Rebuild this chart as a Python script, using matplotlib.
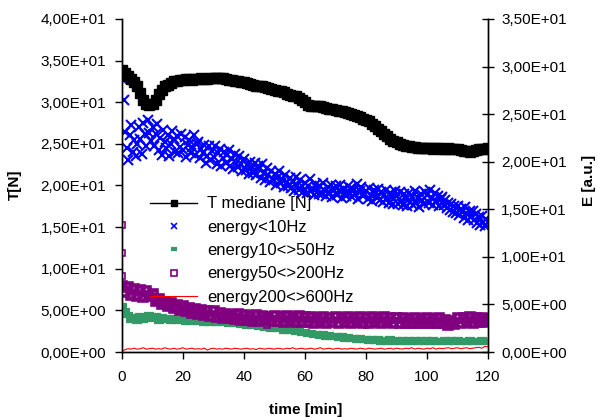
import numpy as np
import matplotlib
matplotlib.use('Agg')
import matplotlib.pyplot as plt
import matplotlib.ticker as ticker

plt.rcParams['font.family'] = ['Liberation Sans', 'DejaVu Sans']

# T mediane [N], one value per minute (left axis)
t_min = np.arange(0, 121, 1)
T_median = [33.9, 33.5, 33.1, 32.8, 32.4, 31.9, 31.1, 30.3, 29.8, 29.7,
            29.8, 30.3, 31.0, 31.5, 31.9, 32.1, 32.3, 32.5, 32.6, 32.7,
            32.7, 32.8, 32.8, 32.7, 32.8, 32.8, 32.9, 32.8, 32.8, 32.9,
            32.9, 32.9, 32.9, 32.9, 32.8, 32.7, 32.7, 32.6, 32.5, 32.4,
            32.4, 32.3, 32.2, 32.1, 32.0, 32.0, 31.9, 31.8, 31.7, 31.6,
            31.5, 31.4, 31.3, 31.2, 31.0, 30.9, 30.8, 30.7, 30.5, 30.3,
            30.0, 29.7, 29.6, 29.6, 29.6, 29.5, 29.4, 29.3, 29.2, 29.2,
            29.1, 29.0, 28.9, 28.8, 28.7, 28.6, 28.5, 28.4, 28.2, 28.0,
            27.9, 27.7, 27.4, 27.1, 26.8, 26.5, 26.2, 25.9, 25.6, 25.4,
            25.2, 25.0, 24.9, 24.8, 24.7, 24.6, 24.6, 24.5, 24.5, 24.5,
            24.5, 24.5, 24.4, 24.5, 24.5, 24.4, 24.4, 24.5, 24.4, 24.4,
            24.4, 24.3, 24.2, 24.1, 24.0, 24.1, 24.3, 24.4, 24.4, 24.4,
            24.5]

# energy<10Hz, every half minute (right axis)
t_half = np.arange(0, 120.25, 0.5)
E_10 = [28.7, 26.5, 23.1, 21.4, 20.2, 22.8, 23.9, 21.0, 22.3, 20.6,
        21.9, 23.6, 22.4, 20.8, 24.1, 22.9, 21.7, 24.4, 23.0, 22.2,
        23.7, 21.6, 22.9, 24.0, 21.2, 22.5, 20.7, 23.3, 22.1, 21.4,
        22.8, 20.6, 21.9, 23.2, 22.4, 21.0, 22.7, 20.9, 21.5, 22.9,
        21.2, 22.6, 20.5, 21.8, 22.3, 20.9, 21.5, 22.8, 20.7, 21.9,
        22.1, 20.4, 21.3, 20.9, 21.8, 19.9, 20.6, 21.7, 20.2, 21.1,
        20.5, 21.6, 19.8, 20.9, 21.3, 19.6, 20.4, 21.0, 19.9, 20.7,
        21.2, 19.6, 20.3, 19.2, 20.8, 19.9, 19.4, 20.6, 19.8, 19.0,
        20.3, 19.1, 19.7, 18.7, 20.0, 19.4, 18.8, 19.9, 18.6, 19.5,
        19.2, 18.3, 19.8, 18.8, 18.1, 19.3, 18.6, 17.9, 19.0, 18.2,
        18.7, 17.6, 18.4, 19.0, 17.8, 18.2, 17.3, 18.6, 17.9, 17.5,
        18.3, 17.2, 17.9, 16.9, 18.4, 17.6, 17.0, 18.1, 17.4, 16.8,
        17.8, 16.7, 17.4, 18.2, 16.9, 17.1, 16.5, 17.7, 17.2, 16.6,
        17.5, 16.6, 17.8, 16.9, 16.4, 17.3, 16.8, 17.6, 16.3, 17.0,
        17.4, 16.5, 16.9, 17.6, 16.2, 17.1, 16.7, 16.4, 17.5, 16.8,
        17.2, 16.3, 17.0, 16.6, 17.7, 16.1, 16.9, 17.3, 16.4, 16.7,
        16.9, 16.1, 17.2, 16.5, 15.9, 17.0, 16.6, 16.2, 17.1, 16.0,
        16.8, 15.8, 16.5, 17.0, 16.1, 15.7, 16.7, 16.3, 15.6, 16.9,
        16.4, 15.6, 16.8, 15.9, 15.4, 16.6, 16.1, 15.3, 16.7, 15.8,
        16.3, 15.5, 16.9, 15.7, 16.2, 15.2, 16.6, 16.0, 15.6, 16.8,
        16.5, 15.7, 17.0, 16.2, 15.5, 16.7, 15.9, 16.4, 15.3, 16.1,
        16.3, 15.4, 16.0, 15.1, 15.7, 14.9, 15.6, 14.7, 15.3, 14.6,
        15.3, 14.4, 15.0, 14.7, 14.1, 15.2, 14.5, 13.9, 14.8, 14.3,
        14.8, 13.9, 14.5, 13.6, 14.2, 13.4, 14.3, 13.7, 13.2, 14.0,
        13.7]

# energy10<>50Hz, one value per minute
E_10_50 = [4.8, 4.3, 3.9, 3.4, 3.7, 3.3, 3.8, 3.4, 3.6, 3.9,
           3.5, 3.8, 3.3, 3.7, 3.4, 3.6, 3.3, 3.6, 3.3, 3.5,
           3.5, 3.2, 3.5, 3.2, 3.4, 3.2, 3.4, 3.1, 3.4, 3.1,
           3.3, 3.0, 3.3, 3.0, 3.2, 2.9, 3.1, 2.9, 3.0, 2.8,
           3.0, 2.7, 2.9, 2.7, 2.8, 2.6, 2.8, 2.5, 2.7, 2.4,
           2.6, 2.4, 2.5, 2.2, 2.4, 2.2, 2.3, 2.1, 2.2, 2.0,
           2.1, 1.9, 2.0, 1.8, 1.9, 1.7, 1.9, 1.6, 1.8, 1.6,
           1.7, 1.5, 1.7, 1.4, 1.6, 1.4, 1.5, 1.3, 1.5, 1.3,
           1.4, 1.2, 1.4, 1.2, 1.4, 1.1, 1.3, 1.1, 1.4, 1.1,
           1.3, 1.1, 1.3, 1.0, 1.3, 1.1, 1.3, 1.0, 1.3, 1.1,
           1.3, 1.1, 1.3, 1.0, 1.2, 1.1, 1.3, 1.0, 1.3, 1.1,
           1.3, 1.0, 1.2, 1.1, 1.3, 1.0, 1.2, 1.1, 1.3, 1.1,
           1.2]

# energy50<>200Hz, one value per minute + a few outliers
E_50_200 = [6.9, 6.3, 6.8, 6.0, 6.6, 5.9, 6.5, 5.8, 6.4, 5.9,
            6.1, 5.4, 5.6, 5.0, 5.3, 4.8, 5.1, 4.6, 4.9, 4.4,
            4.8, 4.3, 4.6, 4.1, 4.5, 4.0, 4.4, 3.9, 4.3, 3.8,
            4.3, 3.7, 4.1, 3.6, 4.0, 3.6, 3.9, 3.5, 4.0, 3.4,
            3.9, 3.4, 3.8, 3.3, 3.9, 3.3, 3.8, 3.4, 3.7, 3.3,
            3.8, 3.3, 3.7, 3.2, 3.8, 3.3, 3.7, 3.2, 3.8, 3.2,
            3.7, 3.2, 3.7, 3.1, 3.6, 3.2, 3.7, 3.1, 3.6, 3.2,
            3.7, 3.1, 3.6, 3.2, 3.7, 3.1, 3.6, 3.2, 3.7, 3.1,
            3.6, 3.1, 3.7, 3.2, 3.6, 3.1, 3.7, 3.2, 3.6, 3.1,
            3.6, 3.1, 3.6, 3.0, 3.5, 3.1, 3.6, 3.0, 3.5, 3.1,
            3.6, 3.1, 3.5, 3.0, 3.6, 3.1, 3.4, 2.8, 3.3, 2.9,
            3.6, 3.1, 3.6, 3.2, 3.7, 3.1, 3.6, 3.2, 3.6, 3.2,
            3.5]
out_t = [0, 0, 0, 47.5, 47.5]
out_E = [13.3, 10.4, 8.0, 3.9, 2.8]

# energy200<>600Hz, one value per minute
E_200_600 = [0.05, 0.25, 0.35, 0.3, 0.4, 0.3, 0.35, 0.45, 0.3, 0.35,
             0.4, 0.3, 0.35, 0.3, 0.45, 0.35, 0.3, 0.4, 0.3, 0.35,
             0.45, 0.3, 0.35, 0.4, 0.3, 0.35, 0.3, 0.4, 0.2, 0.35,
             0.4, 0.3, 0.35, 0.3, 0.4, 0.35, 0.3, 0.4, 0.35, 0.3,
             0.35, 0.4, 0.3, 0.35, 0.25, 0.4, 0.35, 0.3, 0.4, 0.35,
             0.3, 0.4, 0.35, 0.3, 0.4, 0.35, 0.45, 0.3, 0.35, 0.4,
             0.3, 0.35, 0.4, 0.3, 0.35, 0.45, 0.3, 0.35, 0.4, 0.3,
             0.35, 0.4, 0.3, 0.35, 0.3, 0.4, 0.35, 0.3, 0.4, 0.35,
             0.3, 0.4, 0.35, 0.3, 0.35, 0.4, 0.3, 0.35, 0.4, 0.3,
             0.4, 0.35, 0.3, 0.4, 0.35, 0.45, 0.3, 0.4, 0.35, 0.3,
             0.4, 0.35, 0.45, 0.3, 0.4, 0.35, 0.4, 0.45, 0.35, 0.4,
             0.45, 0.35, 0.4, 0.45, 0.35, 0.4, 0.45, 0.5, 0.4, 0.6,
             0.55]

fig = plt.figure(figsize=(5.98, 4.18), dpi=100)
ax1 = fig.add_axes([122/598, 1-352/418, 366/598, 333/418])
ax2 = ax1.twinx()

# energie sur l'axe de droite
ax2.plot(t_half, E_10, 'x', color='#0000FF', markersize=6.5, mew=1.5,
         label='energy<10Hz')
ax2.plot(t_min, E_10_50, '_', color='#339966', markersize=7, mew=4.5,
         label='energy10<>50Hz')
ax2.plot(t_min, E_50_200, 's', color='#800080', markersize=6, mew=2.6,
         mfc='none', label='energy50<>200Hz')
ax2.plot(out_t, out_E, 's', color='#800080', markersize=4, mew=1.2,
         mfc='none')
ax2.plot(t_min, E_200_600, '-', color='#FF0000', lw=0.8,
         label='energy200<>600Hz')
# T sur l'axe de gauche (converti vers l'echelle de droite pour l'ordre des couches)
ax2.plot(np.array(t_min), np.array(T_median) * 35 / 40, '-s',
         color='black', markersize=6.5, lw=1, label='T mediane [N]')

ax1.set_xlim(0, 120)
ax1.set_ylim(0, 40)
ax2.set_ylim(0, 35)
ax1.set_xticks(range(0, 121, 20))
ax1.set_yticks(np.arange(0, 40.1, 5))
ax2.set_yticks(np.arange(0, 35.1, 5))

fmt = ticker.FuncFormatter(lambda v, p: '{:.2E}'.format(v).replace('.', ','))
ax1.yaxis.set_major_formatter(fmt)
ax2.yaxis.set_major_formatter(fmt)

for a in (ax1, ax2):
    a.spines['top'].set_visible(False)
    for s in a.spines.values():
        s.set_linewidth(1)
ax1.tick_params(axis='y', direction='out', length=5, width=1, pad=6.5,
                labelsize=11)
ax1.tick_params(axis='x', direction='out', length=5, width=1, pad=8,
                labelsize=11)
ax2.tick_params(axis='y', direction='inout', length=9, width=1, pad=5,
                labelsize=11)

fig.text(15/598, 1-185/418, 'T[N]', rotation=90, ha='center', va='center',
         fontweight='bold', fontsize=11)
fig.text(589/598, 1-180/418, 'E [a.u.]', rotation=90, ha='center',
         va='center', fontweight='bold', fontsize=11)
fig.text(306/598, 1-410/418, 'time [min]', ha='center', va='center',
         fontweight='bold', fontsize=11)

handles, labels = ax2.get_legend_handles_labels()
order = [4, 0, 1, 2, 3]
leg = fig.legend([handles[i] for i in order], [labels[i] for i in order],
                 loc='upper left', bbox_to_anchor=(142/598, 1-188/418),
                 frameon=False, fontsize=12, numpoints=1, borderpad=0,
                 handlelength=2.8, handletextpad=0.6, labelspacing=0.5)
# marqueurs plus petits dans la legende
lh = leg.legend_handles
lh[0].set_markersize(4.5)
lh[1].set_markersize(5)
lh[1].set_markeredgewidth(1.2)
lh[2].set_markersize(5)
lh[2].set_markeredgewidth(3)
lh[3].set_markersize(4)
lh[3].set_markeredgewidth(1.2)

fig.savefig('out.png', dpi=100)
